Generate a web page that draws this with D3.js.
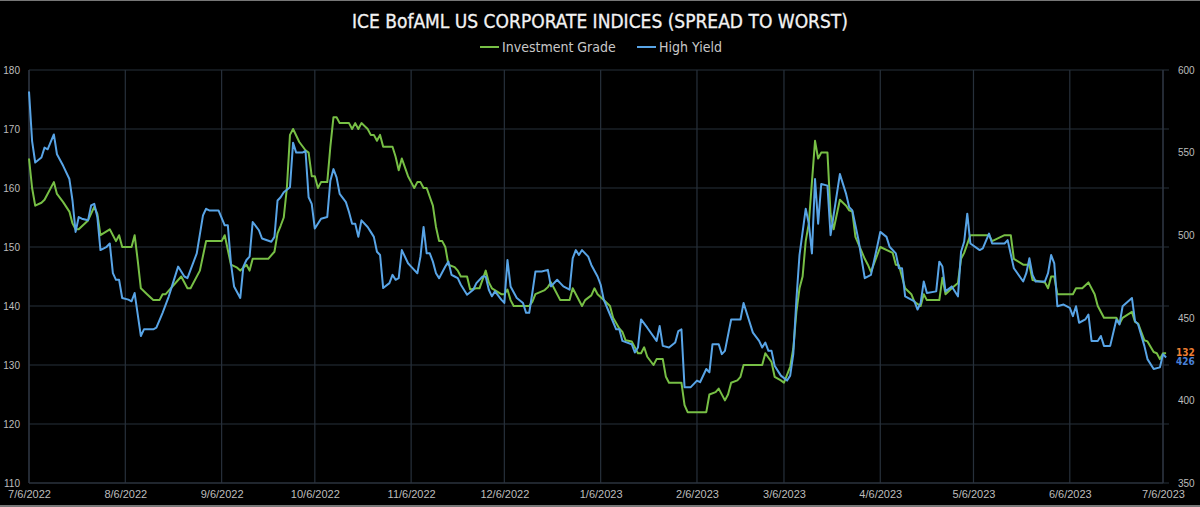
<!DOCTYPE html>
<html>
<head>
<meta charset="utf-8">
<script src="https://cdn.jsdelivr.net/npm/d3@7"></script>
<style>
  body { margin: 0; background: #000; }
  svg { display: block; }
  text { font-family: "Liberation Sans Narrow", "DejaVu Sans Condensed", sans-serif; }
</style>
</head>
<body>
<script>
// spread to worst, bp
var investmentGrade = [
  ["2022-07-06",165],["2022-07-07",160],["2022-07-08",157],["2022-07-10",157.5],["2022-07-11",158],
  ["2022-07-14",161],["2022-07-15",159],["2022-07-17",157.6],["2022-07-19",156],["2022-07-20",154],
  ["2022-07-21",153],["2022-07-22",153],["2022-07-25",154.5],["2022-07-27",156.8],["2022-07-28",155.6],
  ["2022-07-29",152],["2022-08-01",153],["2022-08-03",151],["2022-08-04",152],["2022-08-05",150],
  ["2022-08-08",150],["2022-08-09",152],["2022-08-10",147.7],["2022-08-11",143],["2022-08-13",142],
  ["2022-08-15",141],["2022-08-17",141],["2022-08-18",142],["2022-08-19",142],["2022-08-24",145],
  ["2022-08-26",143],["2022-08-27",143],["2022-08-30",146],["2022-09-01",151],["2022-09-04",151],
  ["2022-09-06",151],["2022-09-07",152],["2022-09-09",147],["2022-09-11",146.5],["2022-09-12",146],
  ["2022-09-14",147],["2022-09-15",146],["2022-09-16",148],["2022-09-21",148],["2022-09-23",149.2],
  ["2022-09-24",152.3],["2022-09-25",153.6],["2022-09-26",155],["2022-09-27",160],["2022-09-28",169],
  ["2022-09-29",170],["2022-10-01",167.8],["2022-10-03",166.4],["2022-10-04",166],["2022-10-05",162],
  ["2022-10-06",162],["2022-10-07",160],["2022-10-08",161],["2022-10-10",161],["2022-10-11",167],
  ["2022-10-12",172],["2022-10-13",172],["2022-10-14",171],["2022-10-17",171],["2022-10-18",170],
  ["2022-10-19",171],["2022-10-20",170],["2022-10-21",171],["2022-10-23",170],["2022-10-24",169],
  ["2022-10-25",169],["2022-10-26",168],["2022-10-27",169],["2022-10-28",167],["2022-10-31",167],
  ["2022-11-01",165.3],["2022-11-02",163],["2022-11-03",165],["2022-11-05",162],["2022-11-06",161],
  ["2022-11-07",160],["2022-11-08",161],["2022-11-09",161],["2022-11-10",160],["2022-11-11",160],
  ["2022-11-13",157],["2022-11-14",153.4],["2022-11-15",151],["2022-11-16",151],["2022-11-17",150],
  ["2022-11-18",147],["2022-11-20",146.6],["2022-11-21",146],["2022-11-22",145],["2022-11-24",145],
  ["2022-11-25",142.8],["2022-11-27",143],["2022-11-28",143],["2022-11-30",146],["2022-12-01",144],
  ["2022-12-02",143],["2022-12-05",142],["2022-12-06",142],["2022-12-07",142.8],["2022-12-08",141],
  ["2022-12-09",140],["2022-12-14",140],["2022-12-15",140.7],["2022-12-16",142],["2022-12-19",142.7],
  ["2022-12-20",143.2],["2022-12-21",144],["2022-12-22",143],["2022-12-24",141],["2022-12-27",141],
  ["2022-12-28",143],["2022-12-31",140],["2023-01-01",141],["2023-01-03",141.8],["2023-01-04",143],
  ["2023-01-05",142],["2023-01-07",141],["2023-01-09",140],["2023-01-10",138],["2023-01-12",136.2],
  ["2023-01-13",135.6],["2023-01-14",134.2],["2023-01-16",134],["2023-01-18",132],["2023-01-19",132],
  ["2023-01-20",133],["2023-01-21",131.4],["2023-01-23",130],["2023-01-24",131],["2023-01-26",131],
  ["2023-01-27",128],["2023-01-28",127],["2023-02-01",127],["2023-02-02",123.2],["2023-02-03",122],
  ["2023-02-09",122],["2023-02-10",125],["2023-02-12",125.4],["2023-02-13",126],["2023-02-15",124],
  ["2023-02-16",125],["2023-02-17",127],["2023-02-19",127.4],["2023-02-20",128],["2023-02-21",130],
  ["2023-02-27",130],["2023-02-28",132],["2023-03-02",130.5],["2023-03-03",128],["2023-03-05",127.4],
  ["2023-03-06",127],["2023-03-08",129.7],["2023-03-09",132.8],["2023-03-10",139],["2023-03-11",143],
  ["2023-03-12",145],["2023-03-13",151],["2023-03-14",154],["2023-03-16",168],["2023-03-17",165],
  ["2023-03-18",166],["2023-03-20",166],["2023-03-21",155.6],["2023-03-22",153],["2023-03-24",158],
  ["2023-03-26",157],["2023-03-27",156.2],["2023-03-28",156],["2023-03-29",151.7],["2023-04-01",148],
  ["2023-04-02",147],["2023-04-03",145.8],["2023-04-06",150],["2023-04-10",149],["2023-04-11",147],
  ["2023-04-12",146.9],["2023-04-14",143],["2023-04-16",142],["2023-04-17",140.7],["2023-04-19",140],
  ["2023-04-20",142],["2023-04-21",141],["2023-04-25",141],["2023-04-26",144.8],["2023-04-27",142],
  ["2023-04-29",143],["2023-05-01",143.9],["2023-05-02",148],["2023-05-03",149],["2023-05-05",152],
  ["2023-05-11",152],["2023-05-12",151],["2023-05-16",152],["2023-05-18",152],["2023-05-19",148],
  ["2023-05-22",147],["2023-05-24",147],["2023-05-25",144.4],["2023-05-29",144],["2023-05-30",143],
  ["2023-05-31",145],["2023-06-01",145],["2023-06-02",142],["2023-06-07",142],["2023-06-08",143],
  ["2023-06-10",143],["2023-06-12",144],["2023-06-14",142],["2023-06-15",140],["2023-06-17",138],
  ["2023-06-21",138],["2023-06-22",137],["2023-06-23",138],["2023-06-26",139],["2023-06-27",137.3],
  ["2023-06-28",137],["2023-06-30",134.2],["2023-07-01",134],["2023-07-03",132.2],["2023-07-04",132],
  ["2023-07-05",131],["2023-07-06",132],["2023-07-07",132]
];

var highYield = [
  ["2022-07-06",587],["2022-07-07",557],["2022-07-08",544],["2022-07-10",547],["2022-07-11",553],
  ["2022-07-12",552],["2022-07-14",561],["2022-07-15",549],["2022-07-17",542],["2022-07-19",534],
  ["2022-07-20",521],["2022-07-21",502],["2022-07-22",511],["2022-07-23",510],["2022-07-25",509],
  ["2022-07-26",518],["2022-07-27",519],["2022-07-28",511],["2022-07-29",491],["2022-07-31",493],
  ["2022-08-01",495],["2022-08-02",477],["2022-08-03",473],["2022-08-04",473],["2022-08-05",462],
  ["2022-08-07",461],["2022-08-08",460],["2022-08-09",465],["2022-08-11",439],["2022-08-12",443],
  ["2022-08-15",443],["2022-08-16",444],["2022-08-18",453],["2022-08-20",463],["2022-08-21",469],
  ["2022-08-23",481],["2022-08-25",475],["2022-08-26",474],["2022-08-27",479],["2022-08-29",489],
  ["2022-08-31",512],["2022-09-01",516],["2022-09-02",515],["2022-09-05",515],["2022-09-07",506],
  ["2022-09-08",506],["2022-09-09",483],["2022-09-10",469],["2022-09-12",462],["2022-09-13",481],
  ["2022-09-14",485],["2022-09-15",487],["2022-09-16",508],["2022-09-18",503],["2022-09-19",498],
  ["2022-09-22",496],["2022-09-23",499],["2022-09-24",521],["2022-09-25",523],["2022-09-26",526],
  ["2022-09-28",529],["2022-09-29",556],["2022-09-30",550],["2022-10-02",550],["2022-10-03",551],
  ["2022-10-04",523],["2022-10-05",519],["2022-10-06",504],["2022-10-08",510],["2022-10-10",511],
  ["2022-10-11",533],["2022-10-12",540],["2022-10-13",535],["2022-10-14",525],["2022-10-16",520],
  ["2022-10-17",514],["2022-10-18",507],["2022-10-19",507],["2022-10-20",499],["2022-10-21",509],
  ["2022-10-23",505],["2022-10-24",502],["2022-10-25",499],["2022-10-26",490],["2022-10-27",488],
  ["2022-10-28",468],["2022-10-30",471],["2022-10-31",476],["2022-11-01",473],["2022-11-02",474],
  ["2022-11-03",491],["2022-11-05",483],["2022-11-06",481],["2022-11-08",477],["2022-11-09",487],
  ["2022-11-10",505],["2022-11-11",489],["2022-11-12",489],["2022-11-13",484],["2022-11-14",477],
  ["2022-11-15",474],["2022-11-17",481],["2022-11-18",484],["2022-11-19",476],["2022-11-20",475],
  ["2022-11-21",474],["2022-11-22",470],["2022-11-24",464],["2022-11-26",467],["2022-11-27",471],
  ["2022-11-29",475],["2022-11-30",475],["2022-12-01",467],["2022-12-02",463],["2022-12-03",466],
  ["2022-12-05",461],["2022-12-06",459],["2022-12-07",485],["2022-12-08",469],["2022-12-10",462],
  ["2022-12-12",459],["2022-12-13",453],["2022-12-14",453],["2022-12-15",465],["2022-12-16",478],
  ["2022-12-18",478],["2022-12-20",479],["2022-12-21",469],["2022-12-23",473],["2022-12-24",471],
  ["2022-12-25",469],["2022-12-27",467],["2022-12-28",486],["2022-12-29",491],["2022-12-30",488],
  ["2022-12-31",491],["2023-01-02",487],["2023-01-03",482],["2023-01-05",475],["2023-01-06",470],
  ["2023-01-07",461],["2023-01-09",452],["2023-01-11",443],["2023-01-12",443],["2023-01-13",436],
  ["2023-01-16",434],["2023-01-17",429],["2023-01-18",432],["2023-01-19",449],["2023-01-21",444],
  ["2023-01-24",436],["2023-01-25",445],["2023-01-26",433],["2023-01-28",432],["2023-01-30",435],
  ["2023-01-31",442],["2023-02-01",443],["2023-02-02",408],["2023-02-04",408],["2023-02-06",412],
  ["2023-02-07",411],["2023-02-09",419],["2023-02-10",417],["2023-02-11",434],["2023-02-13",434],
  ["2023-02-14",428],["2023-02-15",430],["2023-02-17",449],["2023-02-20",449],["2023-02-21",459],
  ["2023-02-24",441],["2023-02-26",436],["2023-02-27",432],["2023-02-28",435],["2023-03-01",430],
  ["2023-03-02",430],["2023-03-03",421],["2023-03-05",415],["2023-03-07",412],["2023-03-08",415],
  ["2023-03-09",428],["2023-03-10",461],["2023-03-11",488],["2023-03-13",516],["2023-03-14",507],
  ["2023-03-15",489],["2023-03-16",534],["2023-03-17",507],["2023-03-18",531],["2023-03-20",530],
  ["2023-03-21",500],["2023-03-24",537],["2023-03-26",525],["2023-03-27",517],["2023-03-28",515],
  ["2023-03-30",497],["2023-04-01",474],["2023-04-03",476],["2023-04-05",493],["2023-04-06",502],
  ["2023-04-08",499],["2023-04-09",493],["2023-04-11",489],["2023-04-12",480],["2023-04-13",480],
  ["2023-04-14",463],["2023-04-17",460],["2023-04-18",455],["2023-04-19",459],["2023-04-20",472],
  ["2023-04-21",465],["2023-04-24",466],["2023-04-25",484],["2023-04-26",481],["2023-04-27",466],
  ["2023-04-29",469],["2023-05-01",463],["2023-05-02",490],["2023-05-03",496],["2023-05-04",513],
  ["2023-05-05",495],["2023-05-08",491],["2023-05-09",492],["2023-05-11",501],["2023-05-12",495],
  ["2023-05-16",495],["2023-05-17",497],["2023-05-19",480],["2023-05-22",472],["2023-05-23",477],
  ["2023-05-24",486],["2023-05-25",476],["2023-05-26",472],["2023-05-29",472],["2023-05-30",477],
  ["2023-05-31",488],["2023-06-01",483],["2023-06-02",457],["2023-06-04",458],["2023-06-06",456],
  ["2023-06-07",451],["2023-06-08",457],["2023-06-09",447],["2023-06-11",449],["2023-06-12",452],
  ["2023-06-13",436],["2023-06-15",436],["2023-06-16",439],["2023-06-17",433],["2023-06-19",433],
  ["2023-06-21",449],["2023-06-22",446],["2023-06-23",457],["2023-06-26",462],["2023-06-27",448],
  ["2023-06-28",446],["2023-06-30",433],["2023-07-01",425],["2023-07-03",419],["2023-07-05",420],
  ["2023-07-06",428],["2023-07-07",426]
];

var seriesNames = ["Investment Grade", "High Yield"];
var xTickDates = ["2022-07-06","2022-08-06","2022-09-06","2022-10-06","2022-11-06","2022-12-06",
  "2023-01-06","2023-02-06","2023-03-06","2023-04-06","2023-05-06","2023-06-06","2023-07-06"];
var igTicks = [110, 120, 130, 140, 150, 160, 170, 180];
var hyTicks = [350, 400, 450, 500, 550, 600];

var svgWidth = 1200,
    svgHeight = 507;
var margin = { top: 70, right: 37, bottom: 24, left: 29 };
var width = svgWidth - margin.left - margin.right,
    height = svgHeight - margin.top - margin.bottom;

var parse = d3.timeParse("%Y-%m-%d");
var igData = investmentGrade.map(d => ({ date: parse(d[0]), value: d[1] }));
var hyData = highYield.map(d => ({ date: parse(d[0]), value: d[1] }));
var tickDates = xTickDates.map(parse);

var svg = d3.select("body").append("svg")
    .attr("width", svgWidth)
    .attr("height", svgHeight);

svg.append("rect")
    .attr("width", svgWidth)
    .attr("height", svgHeight)
    .attr("fill", "#000");
// thin grey frame at top and bottom of the picture
svg.append("rect").attr("width", svgWidth).attr("height", 1).attr("fill", "#777");
svg.append("rect").attr("y", svgHeight - 2).attr("width", svgWidth).attr("height", 2).attr("fill", "#777");

// title + legend
svg.append("text")
    .attr("x", svgWidth / 2)
    .attr("y", 28)
    .attr("text-anchor", "middle")
    .attr("fill", "#f2f2f2")
    .attr("stroke", "#f2f2f2")
    .attr("stroke-width", 0.3)
    .style("font-size", "19px")
    .text("ICE BofAML US CORPORATE INDICES (SPREAD TO WORST)");

var colors = ["#77bf45", "#58a4e6"];
var legendX = [480, 637];
var legend = svg.append("g");
seriesNames.forEach(function(name, i) {
  legend.append("line")
      .attr("x1", legendX[i]).attr("x2", legendX[i] + 19)
      .attr("y1", 47).attr("y2", 47)
      .attr("stroke", colors[i])
      .attr("stroke-width", 2);
  legend.append("text")
      .attr("x", legendX[i] + 22)
      .attr("y", 47)
      .attr("dy", "0.35em")
      .attr("fill", "#c8c8c8")
      .style("font-size", "14px")
      .text(name);
});

var g = svg.append("g")
    .attr("transform", "translate(" + margin.left + "," + margin.top + ")");

var x = d3.scaleTime()
    .domain([tickDates[0], tickDates[tickDates.length - 1]])
    .range([0, width]);
var yL = d3.scaleLinear().domain([110, 180]).range([height, 0]);
var yR = d3.scaleLinear().domain([350, 600]).range([height, 0]);

var gridColor = "#27303b";

// horizontal grid (extends a bit past the right axis)
g.append("g")
    .selectAll("line")
    .data(igTicks)
    .join("line")
    .attr("x1", 0).attr("x2", width + 6)
    .attr("y1", d => yL(d)).attr("y2", d => yL(d))
    .attr("stroke", gridColor)
    .attr("stroke-width", 1.2);

// vertical grid at monthly ticks
g.append("g")
    .selectAll("line")
    .data(tickDates)
    .join("line")
    .attr("x1", d => x(d)).attr("x2", d => x(d))
    .attr("y1", 0).attr("y2", height)
    .attr("stroke", gridColor)
    .attr("stroke-width", 1.2);

// axis frame lines
g.append("line").attr("x1", 0).attr("x2", width).attr("y1", height).attr("y2", height)
    .attr("stroke", "#2e3540").attr("stroke-width", 1.2);
g.append("line").attr("x1", 0).attr("x2", 0).attr("y1", 0).attr("y2", height)
    .attr("stroke", "#2e3540").attr("stroke-width", 1.2);
g.append("line").attr("x1", width).attr("x2", width).attr("y1", 0).attr("y2", height)
    .attr("stroke", "#2e3540").attr("stroke-width", 1.2);

// left axis labels
var leftAxis = g.append("g")
    .call(d3.axisLeft(yL).tickValues(igTicks).tickSize(0).tickPadding(9));
leftAxis.select(".domain").remove();
leftAxis.selectAll("text")
    .attr("fill", "#bdbdbd")
    .style("font-size", "10px")
    .style("font-family", "'Liberation Sans Narrow', sans-serif");

// right axis labels
var rightAxis = g.append("g")
    .attr("transform", "translate(" + width + ",0)")
    .call(d3.axisRight(yR).tickValues(hyTicks).tickSize(0).tickPadding(15));
rightAxis.select(".domain").remove();
rightAxis.selectAll("text")
    .attr("fill", "#bdbdbd")
    .style("font-size", "10px")
    .style("font-family", "'Liberation Sans Narrow', sans-serif");

// bottom axis labels
var bottomAxis = g.append("g")
    .attr("transform", "translate(0," + height + ")")
    .call(d3.axisBottom(x).tickValues(tickDates).tickSize(0).tickPadding(7)
      .tickFormat(d3.timeFormat("%-m/%-d/%Y")));
bottomAxis.select(".domain").remove();
bottomAxis.selectAll("text")
    .attr("fill", "#bdbdbd")
    .style("font-size", "11px")
    .style("font-family", "'Liberation Sans Narrow', sans-serif");

// the two series
var igLine = d3.line().x(d => x(d.date)).y(d => yL(d.value));
var hyLine = d3.line().x(d => x(d.date)).y(d => yR(d.value));

g.append("path")
    .datum(igData)
    .attr("fill", "none")
    .attr("stroke", colors[0])
    .attr("stroke-width", 2)
    .attr("stroke-linejoin", "round")
    .attr("d", igLine);

g.append("path")
    .datum(hyData)
    .attr("fill", "none")
    .attr("stroke", colors[1])
    .attr("stroke-width", 2)
    .attr("stroke-linejoin", "round")
    .attr("d", hyLine);

// last value labels (they sit almost on top of each other in the original)
var igLast = igData[igData.length - 1],
    hyLast = hyData[hyData.length - 1];
g.append("text")
    .attr("x", width + 13)
    .attr("y", yL(igLast.value) - 1)
    .attr("dy", "0.35em")
    .attr("fill", "#ee7f33")
    .style("font-size", "10px")
    .style("font-weight", "bold")
    .text(Math.round(igLast.value));
g.append("text")
    .attr("x", width + 13)
    .attr("y", yR(hyLast.value) + 4)
    .attr("dy", "0.35em")
    .attr("fill", "#4a80d8")
    .style("font-size", "10px")
    .style("font-weight", "bold")
    .text(Math.round(hyLast.value));
</script>
</body>
</html>
